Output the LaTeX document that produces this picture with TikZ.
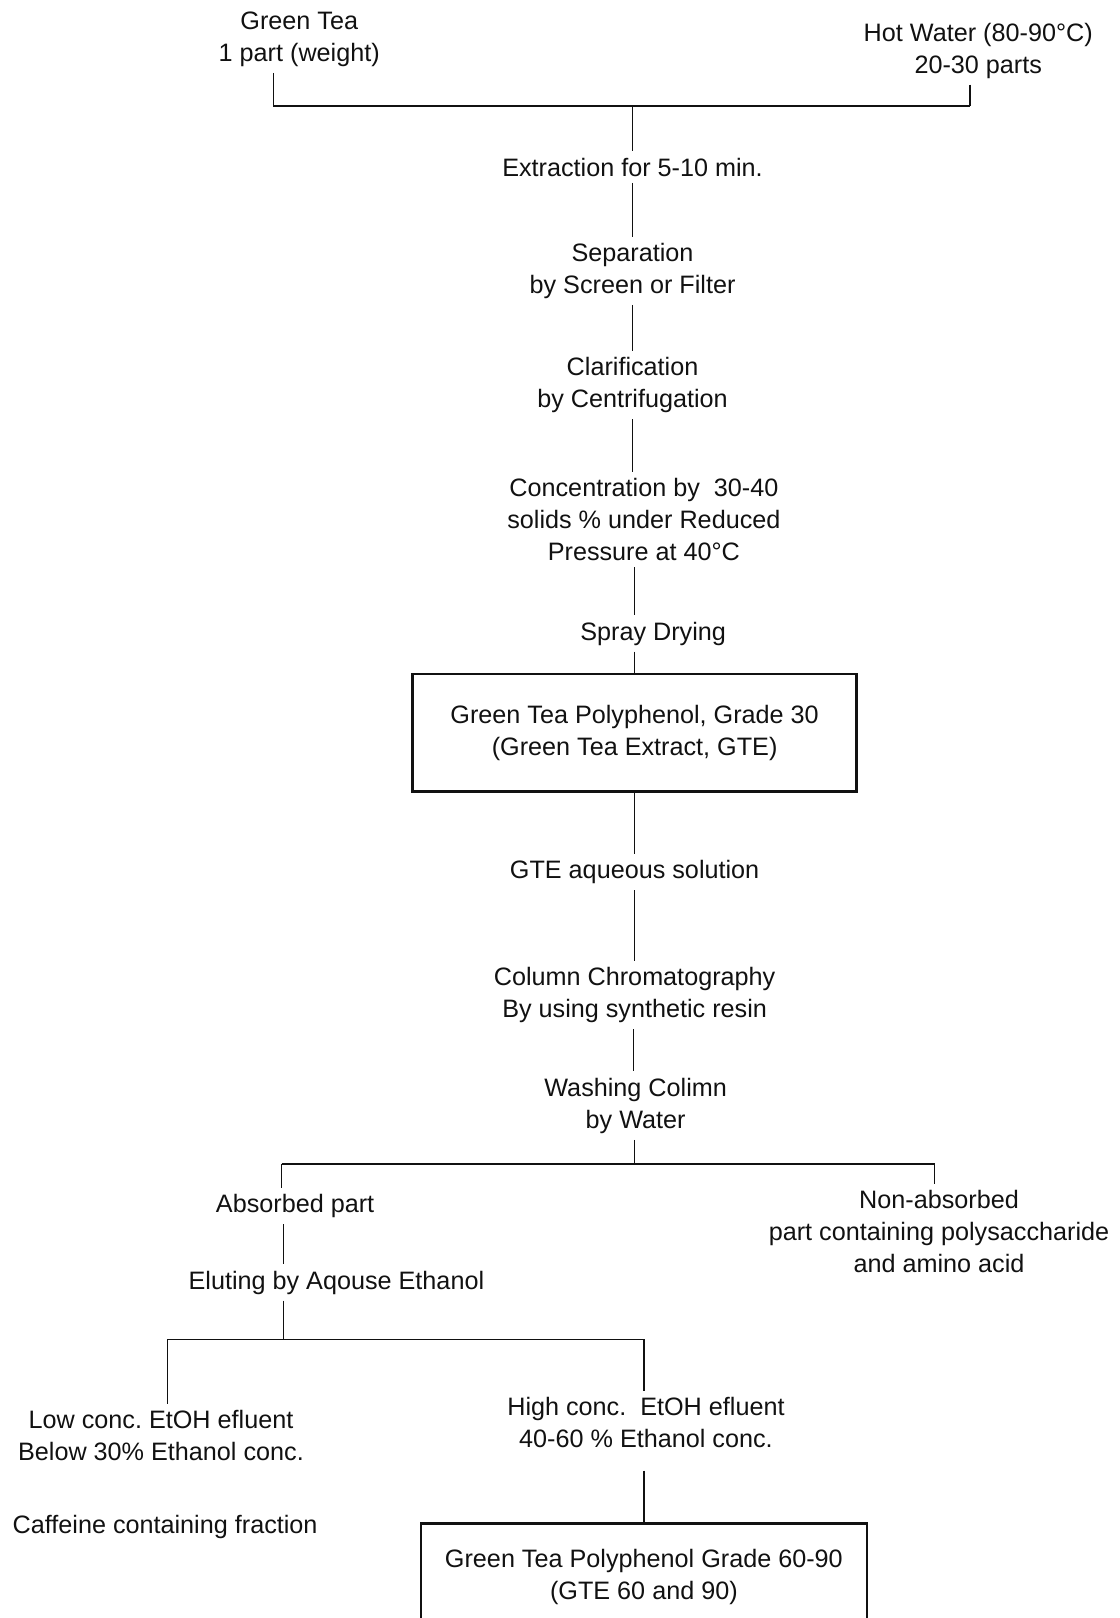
\documentclass[tikz,border=0pt]{standalone}
\usepackage{fontspec}
\setmainfont{Liberation Sans}
\usepackage{xcolor}
\usetikzlibrary{positioning, calc}
\definecolor{inkblack}{HTML}{111111}
\tikzset{
  stagetxt/.style={align=center, inner sep=3pt, text=inkblack, yshift=-1pt,
                   font=\fontsize{12.6}{16}\selectfont},
  gradebox/.style={rectangle, draw=inkblack, line width=1.3pt, align=center,
                   inner sep=3pt, text=inkblack, font=\fontsize{12.6}{16}\selectfont},
  flowline/.style={draw=inkblack, line width=0.6pt},
  busline/.style={draw=inkblack, line width=0.9pt},
}
\begin{document}
\frenchspacing
\begin{tikzpicture}[x=0.516pt, y=-0.516pt]
  \useasboundingbox (0,0) rectangle (1085,1568);

  % --- Raw materials ---
  \node[stagetxt] (gt) at (290, 36)  {Green Tea\\1 part (weight)};
  \node[stagetxt] (hw) at (948, 47)  {Hot Water (80-90°C)\\20-30 parts};

  % --- Extraction chain ---
  \node[stagetxt] (extr)  at (613, 160)   {Extraction for 5-10 min.};
  \node[stagetxt] (sep)   at (613, 260.5) {Separation\\by Screen or Filter};
  \node[stagetxt] (clar)  at (613, 371.5) {Clarification\\by Centrifugation};
  \node[stagetxt] (conc)  at (624, 501.5) {Concentration by\ \ 30-40\\solids \% under Reduced\\Pressure at 40°C};
  \node[stagetxt] (spray) at (633, 612)   {Spray Drying};
  \node[gradebox, minimum width=222pt, minimum height=58.8pt]
                  (gte30) at (615, 710) {Green Tea Polyphenol, Grade 30\\(Green Tea Extract, GTE)};

  % --- Column stage ---
  \node[stagetxt] (aqsol)  at (615, 843)    {GTE aqueous solution};
  \node[stagetxt] (colchr) at (615, 962.5)  {Column Chromatography\\By using synthetic resin};
  \node[stagetxt] (wash)   at (616, 1069.5) {Washing Colimn\\by Water};

  % --- Fractions ---
  \node[stagetxt] (absb)  at (286, 1167)   {Absorbed part};
  \node[stagetxt] (nonab) at (910, 1191.5) {Non-absorbed\\part containing polysaccharide\\and amino acid};
  \node[stagetxt] (elut)  at (326, 1241)   {Eluting by Aqouse Ethanol};
  \node[stagetxt] (lowc)  at (156, 1389)   {Low conc. EtOH efluent\\Below 30\% Ethanol conc.};
  \node[stagetxt] (highc) at (626, 1377)   {High conc.\ \ EtOH efluent\\40-60 \% Ethanol conc.};
  \node[stagetxt] (caff)  at (160, 1478)   {Caffeine containing fraction};
  \node[gradebox, minimum width=223pt, minimum height=54pt]
                  (gte6090) at (624, 1528.5) {Green Tea Polyphenol Grade 60-90\\(GTE 60 and 90)};

  % --- Junctions ---
  \coordinate (trunk) at (614, 0);
  \coordinate (jtl) at (265, 103);
  \coordinate (jtr) at (940, 103);
  \coordinate (jtc) at (613, 103);
  \coordinate (jal) at (273, 1128);
  \coordinate (jar) at (906, 1128);
  \coordinate (jac) at (615, 1128);
  \coordinate (jbl) at (162, 1298);
  \coordinate (jbr) at (624, 1298);
  \coordinate (jbc) at (275, 1298);

  % --- Connectors ---
  \draw[flowline] (gt.south -| jtl) -- (jtl);
  \draw[flowline] (hw.south -| jtr) -- (jtr);
  \draw[busline]  (jtl) -- (jtr);
  \draw[flowline] (jtc) -- (extr.north -| jtc);
  \draw[flowline] (extr.south -| jtc) -- (sep.north -| jtc);
  \draw[flowline] (sep.south -| jtc) -- (clar.north -| jtc);
  \draw[flowline] (clar.south -| jtc) -- (conc.north -| jtc);
  \draw[flowline] (conc.south -| gte30) -- (spray.north -| gte30);
  \draw[flowline] (spray.south -| gte30) -- (gte30.north);
  \draw[flowline] (gte30.south) -- (aqsol.north -| gte30);
  \draw[flowline] (aqsol.south -| gte30) -- (colchr.north -| gte30);
  \draw[flowline] (colchr.south -| trunk) -- (wash.north -| trunk);
  \draw[flowline] (wash.south -| jac) -- (jac);
  \draw[busline]  (jal) -- (jar);
  \draw[flowline] (jal) -- (absb.north -| jal);
  \draw[flowline] (jar) -- (nonab.north -| jar);
  \draw[flowline] (absb.south -| jbc) -- (elut.north -| jbc);
  \draw[flowline] (elut.south -| jbc) -- (jbc);
  \draw[busline]  (jbl) -- (jbr);
  \draw[flowline] (jbl) -- (lowc.north -| jbl);
  \draw[flowline] (jbr) -- (highc.north -| jbr);
  \draw[flowline, shorten <=8pt] (highc.south -| jbr) -- (gte6090.north -| jbr);
\end{tikzpicture}
\end{document}
